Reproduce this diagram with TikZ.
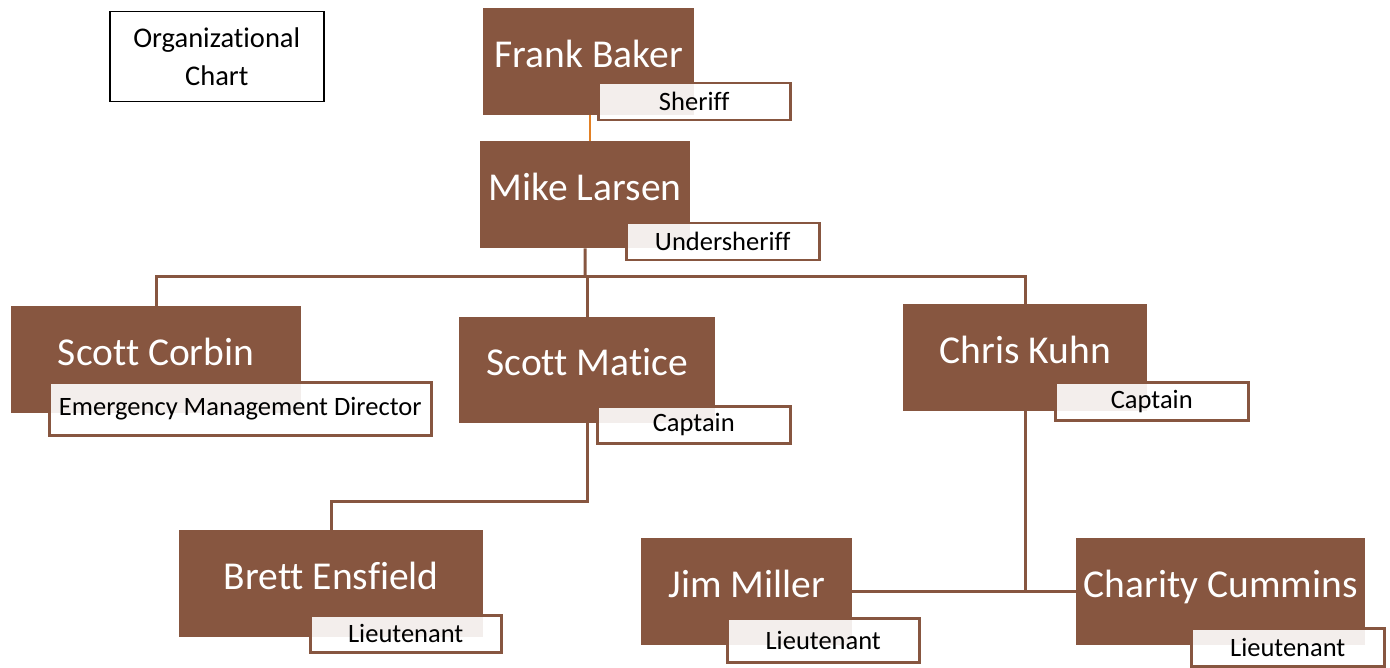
\documentclass[tikz,border=0pt]{standalone}
\usepackage{fontspec}
\setmainfont{Carlito}[Ligatures=NoCommon]
\usepackage{xcolor}
\definecolor{boxbrown}{RGB}{135,86,64}
\definecolor{linkorange}{RGB}{226,128,36}
\tikzset{
  person/.style={fill=boxbrown, text=white, anchor=north west, inner sep=0pt,
    font=\fontsize{39.5}{44}\selectfont, text height=25pt, text depth=14pt},
  rank/.style={draw=boxbrown, line width=2.5pt, fill=white, fill opacity=0.9,
    text opacity=1, text=black, anchor=north west, inner sep=0pt,
    font=\fontsize{26.5}{30}\selectfont},
  link/.style={draw=boxbrown, line width=3pt},
}

\begin{document}
\begin{tikzpicture}[x=1pt, y=-1pt]
    \useasboundingbox (0,0) rectangle (1390,668);
    % title
    \node [draw, line width=1.5pt, anchor=north west, minimum width=214pt,
      minimum height=90pt, align=center, font=\fontsize{28.5}{38}\selectfont]
      (title) at (109,11) {Organizational\\Chart};
    % people
    \node [person, minimum width=211pt, minimum height=107pt] (frank)   at (483,8)    {Frank Baker};
    \node [person, minimum width=210pt, minimum height=107pt] (mike)    at (480,141)  {Mike Larsen};
    \node [person, minimum width=290pt, minimum height=107pt] (corbin)  at (11,306)   {Scott Corbin};
    \node [person, minimum width=256pt, minimum height=106pt] (matice)  at (459,317)  {Scott Matice};
    \node [person, minimum width=244pt, minimum height=107pt] (kuhn)    at (903,304)  {Chris Kuhn};
    \node [person, minimum width=304pt, minimum height=107pt] (brett)   at (179,530)  {Brett Ensfield};
    \node [person, minimum width=211pt, minimum height=107pt] (jim)     at (641,538)  {Jim Miller};
    \node [person, minimum width=289pt, minimum height=107pt] (charity) at (1076,538) {Charity Cummins};
    % ranks
    \node [rank, minimum width=192pt, minimum height=37pt] (frankR)   at (597,82)   {Sheriff};
    \node [rank, minimum width=193pt, minimum height=37pt] (mikeR)    at (625,222)  {Undersheriff};
    \node [rank, minimum width=382pt, minimum height=53pt] (corbinR)  at (48,381)   {Emergency Management Director};
    \node [rank, minimum width=193pt, minimum height=37pt] (maticeR)  at (596,405)  {Captain};
    \node [rank, minimum width=193pt, minimum height=38pt] (kuhnR)    at (1054,381) {Captain};
    \node [rank, minimum width=191pt, minimum height=37pt] (brettR)   at (309,614)  {Lieutenant};
    \node [rank, minimum width=192pt, minimum height=44pt] (jimR)     at (726,617)  {Lieutenant};
    \node [rank, minimum width=193pt, minimum height=38pt] (charityR) at (1190,627) {Lieutenant};
    % links
    \draw [linkorange, line width=2pt] (590,115) -- (590,141);
    \coordinate (hub) at (585,277);
    \draw [link] (mike.south) -- (hub);
    \draw [link] (corbin.north) |- (hub) -| (kuhn.north);
    \draw [link] (matice.north) -- (matice.north |- hub);
    \draw [link] (matice.south) -- ++(0,78) -| (brett.north);
    \draw [link] (kuhn.south) -- (kuhn.south |- jim.east);
    \draw [link] (jim.east) -- (charity.west);
\end{tikzpicture}
\end{document}
